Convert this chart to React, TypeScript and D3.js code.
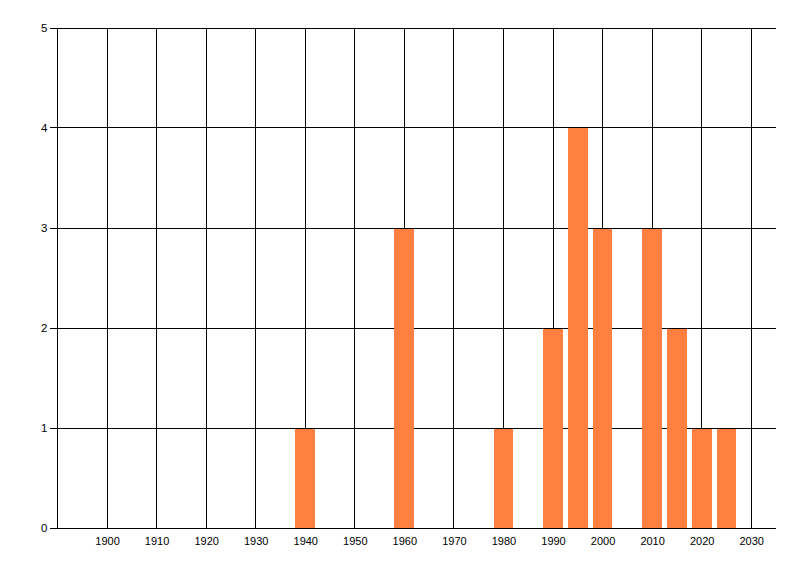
import React, { useEffect, useRef } from "react";
import * as d3 from "d3";

const years: number[] = [1940, 1960, 1980, 1990, 1995, 2000, 2010, 2015, 2020, 2025];
const counts: number[] = [1, 3, 1, 2, 4, 3, 3, 2, 1, 1];
const xTicks: number[] = [1900, 1910, 1920, 1930, 1940, 1950, 1960, 1970, 1980, 1990, 2000, 2010, 2020, 2030];
const yTicks: number[] = [0, 1, 2, 3, 4, 5];

const width = 800;
const height = 576;
const left = 57.5;
const right = 776;
const top = 27.5;
const bottom = 527.5;
const barYears = 4;

export default function App() {
  const ref = useRef<SVGSVGElement | null>(null);

  useEffect(() => {
    const svg = d3.select(ref.current);
    svg.selectAll("*").remove();

    const x = d3.scaleLinear().domain([1890, 2035]).range([left, right]);
    const y = d3.scaleLinear().domain([0, 5]).range([bottom, top]);

    const g = svg.append("g").attr("shape-rendering", "crispEdges");

    // horizontal grid + y ticks
    g.selectAll("line.h")
      .data(yTicks)
      .enter()
      .append("line")
      .attr("x1", left - 8)
      .attr("x2", right)
      .attr("y1", (d) => Math.round(y(d)) + 0.5)
      .attr("y2", (d) => Math.round(y(d)) + 0.5)
      .attr("stroke", "#000");

    // vertical grid
    g.selectAll("line.v")
      .data(xTicks)
      .enter()
      .append("line")
      .attr("x1", (d) => Math.floor(x(d)) + 0.5)
      .attr("x2", (d) => Math.floor(x(d)) + 0.5)
      .attr("y1", Math.round(top) + 0.5)
      .attr("y2", Math.round(bottom) + 0.5)
      .attr("stroke", "#000");

    // left axis
    g.append("line")
      .attr("x1", Math.floor(left) + 0.5)
      .attr("x2", Math.floor(left) + 0.5)
      .attr("y1", Math.round(top) + 0.5)
      .attr("y2", Math.round(bottom) + 0.5)
      .attr("stroke", "#000");

    // bars
    g.selectAll("rect")
      .data(years)
      .enter()
      .append("rect")
      .attr("fill", "#FF8040")
      .attr("x", (d) => Math.round(x(d - barYears / 2)))
      .attr("width", (d) => Math.round(x(d + barYears / 2)) - Math.round(x(d - barYears / 2)))
      .attr("y", (d, i) => Math.round(y(counts[i])) + 1)
      .attr("height", (d, i) => Math.round(y(0)) - Math.round(y(counts[i])) - 1);

    const font = "Liberation Sans, Arial, sans-serif";

    svg
      .selectAll("text.y")
      .data(yTicks)
      .enter()
      .append("text")
      .attr("x", left - 10)
      .attr("y", (d) => y(d))
      .attr("dy", "0.35em")
      .attr("text-anchor", "end")
      .attr("font-family", font)
      .attr("font-size", 11.5)
      .attr("fill", "#000")
      .text((d) => d);

    svg
      .selectAll("text.x")
      .data(xTicks)
      .enter()
      .append("text")
      .attr("x", (d) => x(d) + 0.5)
      .attr("y", bottom + 13.5)
      .attr("dy", "0.35em")
      .attr("text-anchor", "middle")
      .attr("font-family", font)
      .attr("font-size", 11)
      .attr("fill", "#000")
      .text((d) => d);
  }, []);

  return (
    <svg
      ref={ref}
      width={width}
      height={height}
      style={{ position: "absolute", left: 0, top: 0, background: "#fff" }}
    />
  );
}
